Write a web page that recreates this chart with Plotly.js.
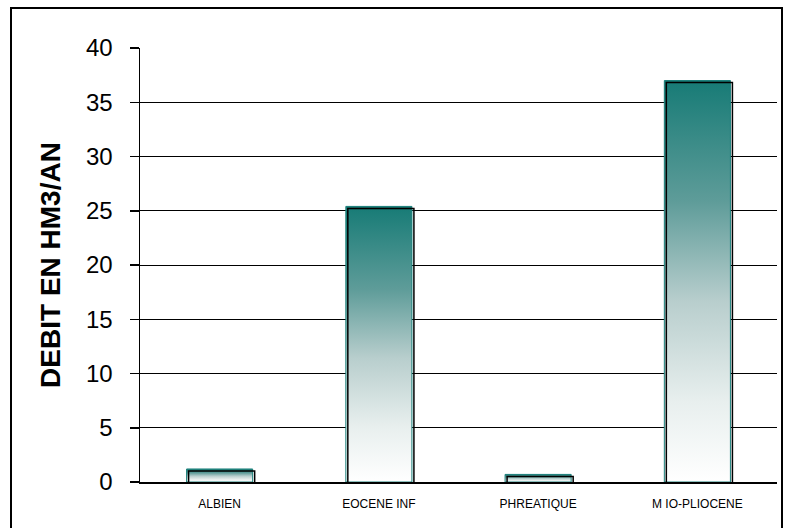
<!DOCTYPE html>
<html>
<head>
<meta charset="utf-8">
<script src="https://cdn.plot.ly/plotly-3.0.1.min.js"></script>
<style>
html,body{margin:0;padding:0;background:#fff;}
#wrap{position:relative;width:787px;height:528px;overflow:hidden;}
#chart{width:787px;height:528px;}
#frame{position:absolute;left:10px;top:7px;width:773px;height:530px;border:2px solid #000;box-sizing:border-box;pointer-events:none;}
</style>
</head>
<body>
<div id="wrap"><div id="chart"></div><div id="frame"></div></div>
<script>
const categories = ["ALBIEN", "EOCENE INF", "PHREATIQUE", "M IO-PLIOCENE"];
const values = [1.2, 25.4, 0.7, 37.0];
const yTicks = [0, 5, 10, 15, 20, 25, 30, 35, 40];

const trace = {
  type: 'bar',
  x: categories,
  y: values,
  marker: {color: '#1a7f7a', line: {color: '#1a7f7a', width: 1}},
  hoverinfo: 'none'
};

const layout = {
  width: 787, height: 528,
  margin: {l: 140, r: 10, t: 48, b: 46},
  paper_bgcolor: '#fff', plot_bgcolor: '#fff',
  font: {family: 'Liberation Sans, Arial, sans-serif', color: '#000'},
  bargap: 0.585,
  showlegend: false,
  xaxis: {
    showgrid: false, showline: true, linecolor: '#000', linewidth: 1.5,
    ticks: 'outside', ticklen: 10, tickcolor: 'rgba(0,0,0,0)', tickfont: {size: 12}, zeroline: false
  },
  yaxis: {
    range: [0, 40], tickvals: yTicks, ticktext: yTicks.map(String),
    showgrid: true, gridcolor: '#000', gridwidth: 1,
    showline: true, linecolor: '#000', linewidth: 1.5,
    ticks: 'outside', ticklen: 9, tickcolor: '#000', tickwidth: 1.5,
    ticklabelstandoff: 12,
    tickfont: {size: 24}, zeroline: false,
    title: {text: 'DEBIT EN HM3/AN', font: {size: 28, weight: 'bold'}, standoff: 17}
  }
};

Plotly.newPlot('chart', [trace], layout, {staticPlot: true, displayModeBar: false}).then(function (gd) {
  const svg = gd.querySelector('svg.main-svg');
  const ns = 'http://www.w3.org/2000/svg';
  let defs = svg.querySelector('defs');
  if (!defs) { defs = document.createElementNS(ns, 'defs'); svg.insertBefore(defs, svg.firstChild); }
  const grad = document.createElementNS(ns, 'linearGradient');
  grad.setAttribute('id', 'barGrad');
  grad.setAttribute('x1', '0'); grad.setAttribute('y1', '0');
  grad.setAttribute('x2', '0'); grad.setAttribute('y2', '1');
  [['0', '#177b76'], ['0.3', '#5e9c99'], ['0.55', '#b8cecd'], ['0.8', '#e8efee'], ['1', '#ffffff']].forEach(function (s) {
    const st = document.createElementNS(ns, 'stop');
    st.setAttribute('offset', s[0]);
    st.setAttribute('stop-color', s[1]);
    grad.appendChild(st);
  });
  defs.appendChild(grad);
  gd.querySelectorAll('.bars .point path').forEach(function (p) {
    p.style.fill = 'url(#barGrad)';
    const c = p.cloneNode(true);
    c.style.fill = 'none';
    c.style.stroke = '#000';
    c.style.strokeWidth = '1.5px';
    c.setAttribute('transform', 'translate(2,2)');
    p.parentNode.appendChild(c);
  });
});
</script>
</body>
</html>
